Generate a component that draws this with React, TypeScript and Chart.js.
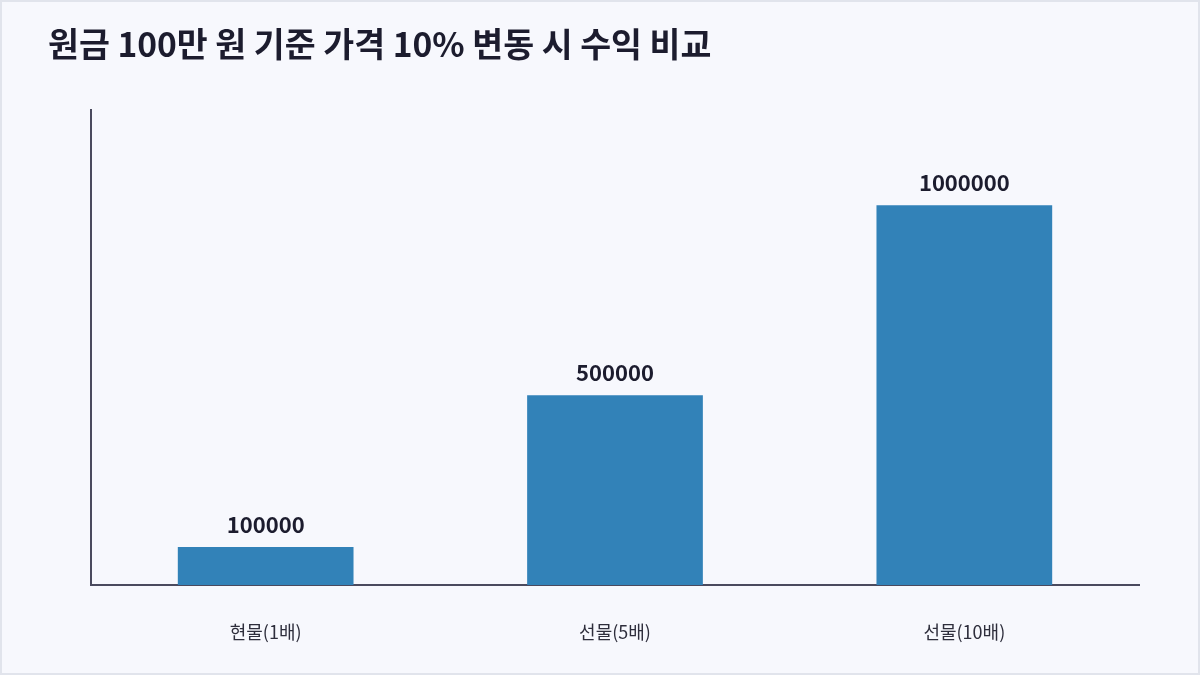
import { useEffect, useRef } from "react";
import { Chart, registerables, Plugin } from "chart.js";

Chart.register(...registerables);

const titleText = "원금 100만 원 기준 가격 10% 변동 시 수익 비교";
const categories = ["현물(1배)", "선물(5배)", "선물(10배)"];
const profits = [100000, 500000, 1000000];

const FONT = "'Noto Sans CJK KR', 'Noto Sans', sans-serif";

// Draws the value above every bar
const valueLabels: Plugin<"bar"> = {
	id: "valueLabels",
	afterDatasetsDraw(chart) {
		const ctx = chart.ctx;
		const meta = chart.getDatasetMeta(0);
		ctx.save();
		ctx.font = `bold 22px ${FONT}`;
		ctx.fillStyle = "#1c1c2e";
		ctx.textAlign = "center";
		ctx.textBaseline = "alphabetic";
		meta.data.forEach((bar, i) => {
			const value = chart.data.datasets[0].data[i] as number;
			ctx.fillText(String(value), bar.x, bar.y - 14);
		});
		ctx.restore();
	},
};

export default function App() {
	const chartRef = useRef<HTMLCanvasElement | null>(null);
	const chartInstance = useRef<Chart | null>(null);

	useEffect(() => {
		document.body.style.margin = "0";
		if (!chartRef.current) return;
		const ctx = chartRef.current.getContext("2d");
		if (!ctx) return;

		if (chartInstance.current) {
			chartInstance.current.destroy();
		}

		chartInstance.current = new Chart(ctx, {
			type: "bar",
			data: {
				labels: categories,
				datasets: [
					{
						label: "수익",
						data: profits,
						backgroundColor: "#3282b8",
						barPercentage: 0.503,
						categoryPercentage: 1,
					},
				],
			},
			options: {
				animation: false,
				responsive: true,
				maintainAspectRatio: false,
				layout: {
					padding: { top: 22, left: 46, right: 59, bottom: 0 },
				},
				plugins: {
					legend: { display: false },
					tooltip: { enabled: false },
					title: {
						display: true,
						text: titleText,
						align: "start",
						color: "#1c1c2e",
						font: { family: FONT, size: 33.6, weight: "bold" },
						padding: { top: 0, bottom: 46 },
					},
				},
				scales: {
					x: {
						grid: { display: false },
						border: { display: true, color: "#4a4a5e", width: 2 },
						ticks: {
							color: "#2e2e3c",
							padding: 28,
							font: { family: FONT, size: 18 },
						},
						afterFit: (scale) => {
							scale.height = 88;
						},
					},
					y: {
						min: 0,
						max: 1250000,
						grid: { display: false },
						border: { display: true, color: "#4a4a5e", width: 2 },
						ticks: { display: false },
						afterFit: (scale) => {
							scale.width = 43;
						},
					},
				},
			},
			plugins: [valueLabels],
		});

		return () => {
			if (chartInstance.current) {
				chartInstance.current.destroy();
				chartInstance.current = null;
			}
		};
	}, []);

	return (
		<div
			style={{
				width: 1200,
				height: 675,
				boxSizing: "border-box",
				border: "2px solid #e1e4ec",
				background: "#f7f8fd",
				position: "relative",
			}}
		>
			<canvas ref={chartRef} />
		</div>
	);
}
